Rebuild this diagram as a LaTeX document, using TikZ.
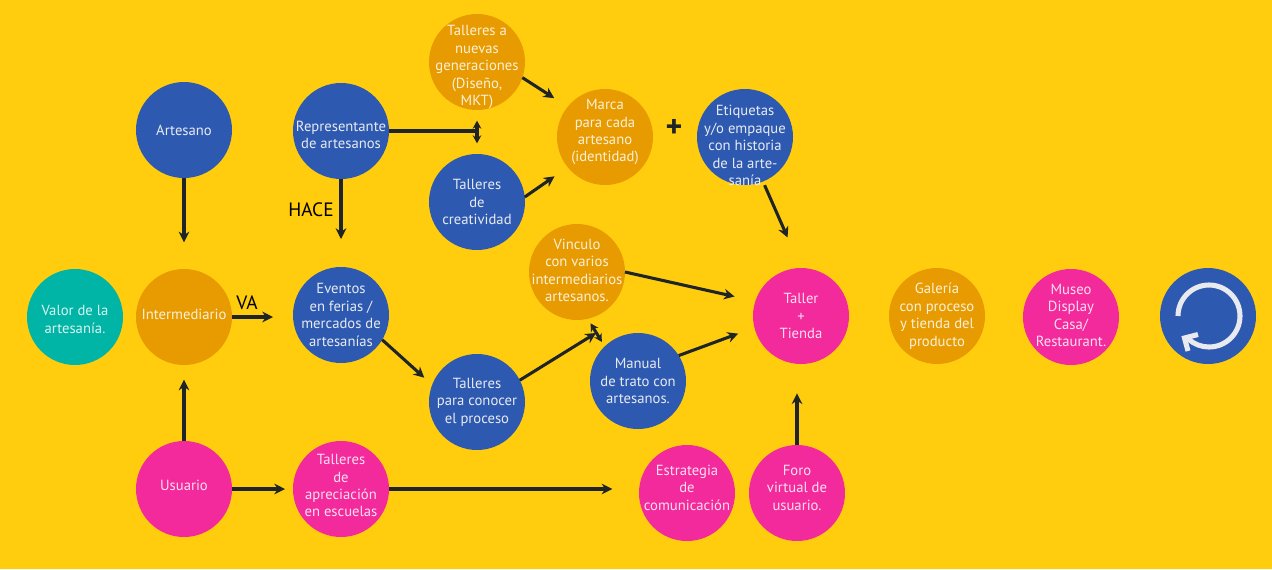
\documentclass[tikz,border=0pt]{standalone}
\usepackage{fontspec}
\setmainfont{PT Sans}
\usetikzlibrary{arrows.meta}
\definecolor{fondo}{HTML}{FFCC0E}
\definecolor{azul}{HTML}{2D5AB0}
\definecolor{naranja}{HTML}{E79B00}
\definecolor{rosa}{HTML}{F22A9C}
\definecolor{turquesa}{HTML}{00B5A5}
\definecolor{linea}{HTML}{1F2526}
\definecolor{claro}{HTML}{E8EAF0}
% baja el texto dentro del circulo sin mover el circulo
\newcommand{\bajar}[2]{\begingroup\setbox0=\hbox{\begin{tabular}{@{}c@{}}#2\end{tabular}}\raisebox{\dimexpr-#1-3.7pt}[\ht0][\dp0]{\box0}\endgroup}
\tikzset{
	burbuja/.style={circle,minimum size=72pt,inner sep=-18pt,outer sep=0pt,align=center,font=\fontsize{11}{13.1}\selectfont},
	azulb/.style={burbuja,fill=azul,text=claro},
	naranjab/.style={burbuja,fill=naranja,text=white!85!naranja},
	rosab/.style={burbuja,fill=rosa,text=white!85!rosa},
	turqb/.style={burbuja,fill=turquesa,text=white!85!turquesa},
	flecha/.style={draw=linea,line width=2.3pt,-{Stealth[length=8pt,width=8pt]}},
	doble/.style={draw=linea,line width=2.3pt,{Stealth[length=6pt,width=6.5pt]}-{Stealth[length=6pt,width=6.5pt]}},
	rotulo/.style={text=black,font=\fontsize{14.5}{16}\selectfont}
}
\begin{document}
\begin{tikzpicture}[x=0.75pt,y=-0.75pt]
	\fill[fondo] (0,0) rectangle (1272,569);
	% columna izquierda
	\node[turqb] (valor) at (75,317) {\bajar{2pt}{Valor de la\\artesanía.}};
	\node[azulb] (artesano) at (184,130) {Artesano};
	\node[naranjab] (intermediario) at (184,317) {\bajar{-1.5pt}{Intermediario}};
	\node[rosab] (usuario) at (184,489) {\bajar{-2.25pt}{Usuario}};
	\node[azulb] (representante) at (341,131) {\bajar{3pt}{Representante\\de artesanos}};
	\node[azulb] (eventos) at (341,315) {Eventos\\en ferias /\\mercados de\\artesanías};
	\node[rosab] (apreciacion) at (341,489) {\bajar{-2.25pt}{Talleres\\de\\apreciación\\en escuelas}};
	% talleres
	\node[naranjab] (nuevas) at (477,62) {\bajar{3pt}{Talleres a\\nuevas\\generaciones\\(Diseño,\\MKT)}};
	\node[azulb] (creatividad) at (477,202) {Talleres\\de\\creatividad};
	\node[azulb] (conocer) at (477,402) {Talleres\\para conocer\\el proceso};
	\node[naranjab] (marca) at (605,137) {\bajar{-4.5pt}{Marca\\para cada\\artesano\\(identidad)}};
	\node[azulb] (etiquetas) at (745,137) {\bajar{6.75pt}{Etiquetas\\y/o empaque\\con historia\\de la arte-\\sanía}};
	\node[naranjab] (vinculo) at (577,272) {\bajar{-1pt}{Vinculo\\con varios\\intermediarios\\artesanos.}};
	\node[azulb] (manual) at (638,381) {Manual\\de trato con\\artesanos.};
	\node[rosab] (estrategia) at (687,493) {\bajar{-3.75pt}{Estrategia\\de\\comunicación}};
	\node[rosab] (foro) at (797,493) {\bajar{-3.75pt}{Foro\\virtual de\\usuario.}};
	% fila derecha
	\node[rosab] (taller) at (801,316) {Taller\\+\\Tienda};
	\node[naranjab] (galeria) at (937,316) {Galería\\con proceso\\y tienda del\\producto};
	\node[rosab] (museo) at (1071,317) {\bajar{-1pt}{Museo\\Display\\Casa/\\Restaurant.}};
	\node[azulb] (ciclo) at (1208,316) {};
	\draw[claro,line width=3.8pt] (1178,316) arc (180:492:31);
	\draw[claro,line width=3.8pt,miter limit=10] (1198,334.5) -- (1184.5,338) -- (1188,351);
	\node[rotulo] (va) at (247,303) {VA};
	\node[rotulo] (hace) at (311,210) {HACE};
	\node[text=linea,font=\fontsize{24}{24}\bfseries\selectfont] (mas) at (674,128) {+};
	\coordinate (cruce) at (596,333);
	% conectores
	\draw[flecha,shorten >=20pt] (artesano.south) -- (intermediario.north);
	\draw[flecha,shorten >=11pt] (usuario.north) -- (intermediario.south);
	\draw[flecha,shorten >=15pt] (intermediario.east) -- (eventos.west |- intermediario.east);
	\draw[flecha,shorten >=21pt] (representante.south) -- (eventos.north);
	\draw[flecha,shorten >=6pt] (usuario.east) -- (apreciacion.west);
	\draw[flecha,shorten >=20pt] (apreciacion.east) -- (estrategia.west |- apreciacion.east);
	\draw[flecha,shorten >=22pt] (foro.north) -- (foro.north |- taller.south);
	\draw[draw=linea,line width=2.3pt] (representante.east) -- (nuevas.south |- representante.east);
	\draw[doble,shorten <=8pt,shorten >=8pt] (nuevas.south) -- (creatividad.north);
	\draw[flecha,shorten >=12pt] (nuevas.-19) -- (marca.141);
	\draw[flecha,shorten >=12pt] (creatividad.6) -- (marca.219);
	\draw[flecha,shorten >=8pt] (eventos.-31) -- (conocer.159);
	\draw[flecha] (conocer.27) -- (cruce);
	\draw[doble,shorten <=4pt,shorten >=4pt] (vinculo.-77) -- (manual.134);
	\draw[flecha,shorten <=3pt,shorten >=25pt] (etiquetas.-68) -- (taller.north);
	\draw[flecha,shorten >=16pt] (vinculo.0) -- (taller.162);
	\draw[flecha,shorten >=13pt] (manual.32) -- (taller.194);
\end{tikzpicture}
\end{document}
